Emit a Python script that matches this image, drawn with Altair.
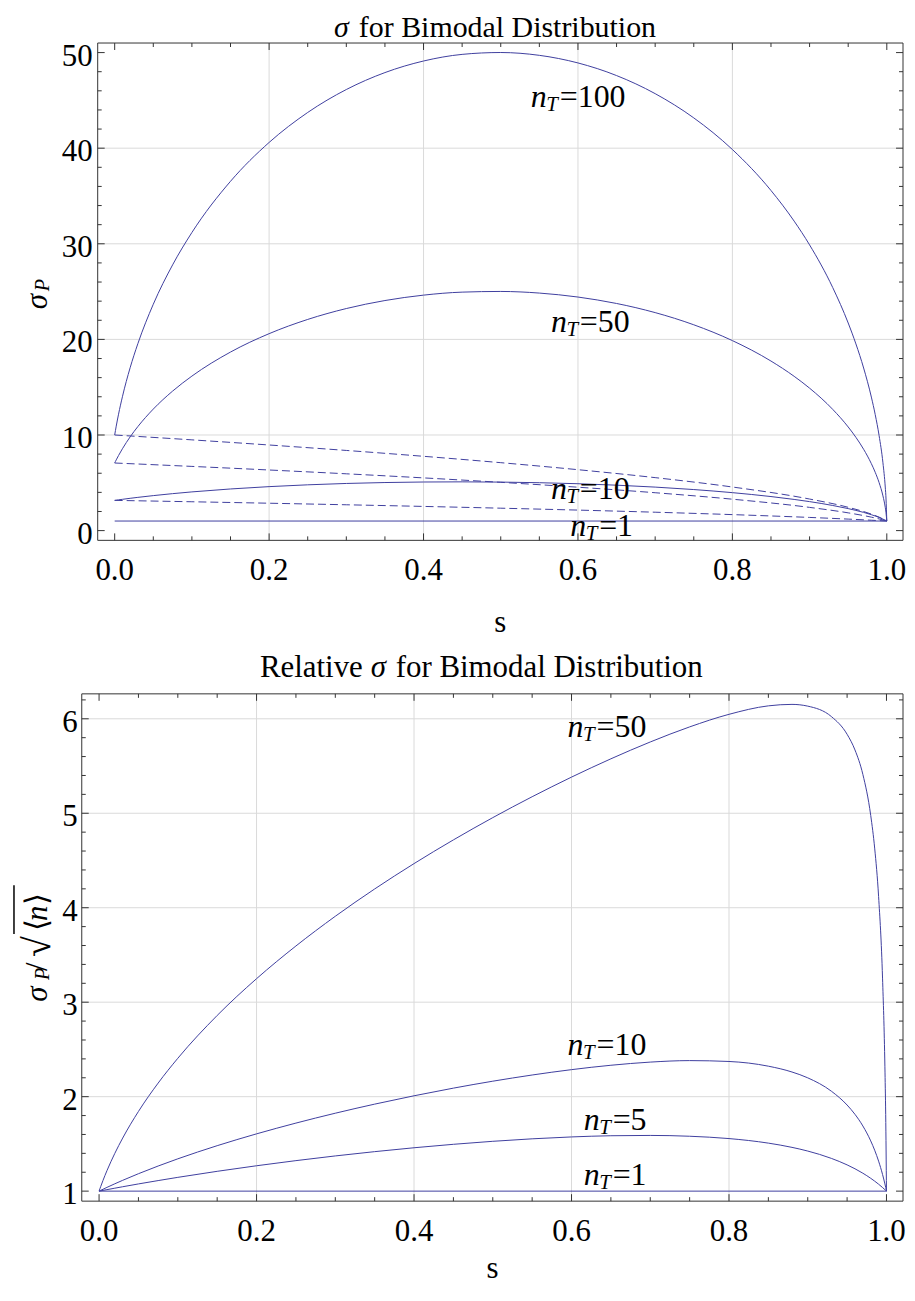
import altair as alt
import pandas as pd

# ------------------------------------------------------------------ data
S_SOLID = [0.0, 0.001, 0.002, 0.005, 0.01, 0.02, 0.03, 0.05, 0.075, 0.1, 0.15, 0.2,
           0.25, 0.3, 0.35, 0.4, 0.45, 0.5, 0.55, 0.6, 0.65, 0.7, 0.75, 0.8, 0.85,
           0.88, 0.9, 0.93, 0.95, 0.96, 0.97, 0.98, 0.985, 0.99, 0.995, 0.998, 0.999, 1.0]

SIGMA_100 = [10.0, 10.473, 10.926, 12.177, 14.001, 17.033, 19.551, 23.677, 27.794, 31.180,
             36.535, 40.600, 43.737, 46.136, 47.907, 49.119, 49.812, 50.007, 49.712, 48.917,
             47.596, 45.705, 43.168, 39.862, 35.574, 32.371, 29.883, 25.416, 21.714, 19.528,
             17.005, 13.967, 12.136, 9.951, 7.089, 4.556, 3.300, 1.0]
SIGMA_50 = [7.071, 7.235, 7.396, 7.855, 8.560, 9.802, 10.881, 12.712, 14.591, 16.161,
            18.676, 20.600, 22.089, 23.227, 24.064, 24.630, 24.944, 25.015, 24.846, 24.430,
            23.757, 22.802, 21.528, 19.874, 17.734, 16.138, 14.899, 12.678, 10.840, 9.755,
            8.505, 7.003, 6.100, 5.026, 3.632, 2.427, 1.857, 1.0]
SIGMA_10 = [3.162, 3.174, 3.185, 3.218, 3.273, 3.378, 3.477, 3.660, 3.866, 4.048,
            4.356, 4.600, 4.789, 4.931, 5.028, 5.083, 5.099, 5.074, 5.010, 4.903,
            4.752, 4.551, 4.294, 3.970, 3.561, 3.261, 3.032, 2.627, 2.302, 2.114,
            1.904, 1.664, 1.527, 1.375, 1.203, 1.086, 1.044, 1.0]

S_FLAT = [0.0, 1.0]
FLAT_1 = [1.0, 1.0]

S_POISSON = [0.0, 0.1, 0.2, 0.3, 0.4, 0.5, 0.6, 0.7, 0.8, 0.9, 0.95, 0.98, 0.99, 1.0]
POISSON_100 = [10.0, 9.492, 8.955, 8.385, 7.772, 7.106, 6.372, 5.541, 4.561, 3.302, 2.439, 1.726, 1.411, 1.0]
POISSON_50 = [7.071, 6.716, 6.340, 5.941, 5.514, 5.050, 4.539, 3.962, 3.286, 2.429, 1.857, 1.407, 1.221, 1.0]
POISSON_10 = [3.162, 3.017, 2.864, 2.702, 2.530, 2.345, 2.145, 1.924, 1.673, 1.378, 1.204, 1.086, 1.044, 1.0]

REL_50 = [1.0, 1.0237, 1.0469, 1.1136, 1.2166, 1.4000, 1.5620, 1.8435, 2.1437, 2.4065,
          2.8597, 3.2490, 3.5952, 3.9095, 4.1986, 4.4671, 4.7182, 4.9537, 5.1750, 5.3827,
          5.5763, 5.7546, 5.9141, 6.0473, 6.1370, 6.1525, 6.1339, 6.0236, 5.8360, 5.6700,
          5.4118, 4.9767, 4.6310, 4.1174, 3.2549, 2.3161, 1.8130, 1.0]
REL_10 = [1.0, 1.0041, 1.0081, 1.0200, 1.0397, 1.0778, 1.1146, 1.1845, 1.2659, 1.3421,
          1.4812, 1.6064, 1.7204, 1.8249, 1.9210, 2.0094, 2.0903, 2.1638, 2.2293, 2.2861,
          2.3325, 2.3659, 2.3818, 2.3725, 2.3227, 2.2611, 2.1993, 2.0579, 1.9115, 1.8130,
          1.6900, 1.5316, 1.4334, 1.3175, 1.1771, 1.0765, 1.0393, 1.0]
REL_5 = [1.0, 1.0016, 1.0032, 1.0080, 1.0158, 1.0314, 1.0466, 1.0763, 1.1118, 1.1459,
         1.2098, 1.2687, 1.3229, 1.3727, 1.4181, 1.4593, 1.4958, 1.5275, 1.5538, 1.5738,
         1.5864, 1.5897, 1.5811, 1.5564, 1.5083, 1.4634, 1.4243, 1.3468, 1.2780, 1.2368,
         1.1898, 1.1359, 1.1059, 1.0735, 1.0383, 1.0157, 1.0079, 1.0]

X_TICKS_MAJOR = [0.0, 0.2, 0.4, 0.6, 0.8, 1.0]
X_TICKS_MINOR = [0.05, 0.1, 0.15, 0.25, 0.3, 0.35, 0.45, 0.5, 0.55, 0.65, 0.7, 0.75, 0.85, 0.9, 0.95]
X_GRID = [0.2, 0.4, 0.6, 0.8]

TOP_Y_MAJOR = [0, 10, 20, 30, 40, 50]
TOP_Y_MINOR = [2, 4, 6, 8, 12, 14, 16, 18, 22, 24, 26, 28, 32, 34, 36, 38, 42, 44, 46, 48]
TOP_Y_GRID = [10, 20, 30, 40]

BOT_Y_MAJOR = [1, 2, 3, 4, 5, 6]
BOT_Y_MINOR = [1.2, 1.4, 1.6, 1.8, 2.2, 2.4, 2.6, 2.8, 3.2, 3.4, 3.6, 3.8,
               4.2, 4.4, 4.6, 4.8, 5.2, 5.4, 5.6, 5.8, 6.2]
BOT_Y_GRID = [2, 3, 4, 5, 6]

TOP_LABELS = ["=100", "=50", "=10", "=1"]
BOT_LABELS = ["=50", "=10", "=5", "=1"]

# label anchors (data coordinates of the left end of each "nT=" label)
TOP_LABEL_S = [0.539, 0.565, 0.565, 0.590]
TOP_LABEL_V = [44.3, 20.8, 3.3, -0.6]
BOT_LABEL_S = [0.595, 0.595, 0.6155, 0.6155]
BOT_LABEL_V = [5.806, 2.438, 1.650, 1.063]

# ------------------------------------------------------------------ style / layout
FONT = "Liberation Serif, Times New Roman, serif"
FS = 31
FS_LAB = 32
LINE = "#3f3f9f"
FRAME = "#333333"
GRID = "#dadada"
ONE = pd.DataFrame({"k": [0]})
VIEW_W, VIEW_H = 899, 1280


def series_frame(items):
    rows = []
    for name, ss, vv, dashed in items:
        for s, v in zip(ss, vv):
            rows.append({"s": s, "v": v, "series": name, "dashed": dashed})
    return pd.DataFrame(rows)


def txt(text, x, y, size=FS, italic=False, angle=0, align="left"):
    return alt.Chart(ONE).mark_text(
        text=text, font=FONT, fontSize=size,
        fontStyle="italic" if italic else "normal",
        angle=angle, align=align, baseline="alphabetic", color="black"
    ).encode(x=alt.value(x), y=alt.value(y))


def rule(x, y, x2=None, y2=None, color=FRAME, width=1):
    enc = {"x": alt.value(x), "y": alt.value(y)}
    if x2 is not None:
        enc["x2"] = alt.value(x2)
    if y2 is not None:
        enc["y2"] = alt.value(y2)
    return alt.Chart(ONE).mark_rule(color=color, strokeWidth=width).encode(**enc)


def panel(df, lab, box, xdom, ydom, ymajor, yminor, ygrid, xlab_y, ylab_x):
    X0, X1, Y0, Y1 = box
    xs = alt.Scale(domain=xdom, range=[X0, X1], nice=False, zero=False)
    ys = alt.Scale(domain=ydom, range=[Y1, Y0], nice=False, zero=False)

    def X(f):
        return alt.X(f, scale=xs, axis=None)

    def Y(f):
        return alt.Y(f, scale=ys, axis=None)

    L = []
    # grid
    L.append(alt.Chart(pd.DataFrame({"g": X_GRID})).mark_rule(color=GRID, strokeWidth=1)
             .encode(x=X("g:Q"), y=alt.value(Y0), y2=alt.value(Y1)))
    L.append(alt.Chart(pd.DataFrame({"g": ygrid})).mark_rule(color=GRID, strokeWidth=1)
             .encode(y=Y("g:Q"), x=alt.value(X0), x2=alt.value(X1)))
    # curves
    solid = df[~df["dashed"]]
    dashed = df[df["dashed"]]
    L.append(alt.Chart(solid).mark_line(color=LINE, strokeWidth=1, interpolate="monotone")
             .encode(x=X("s:Q"), y=Y("v:Q"), detail="series:N"))
    if len(dashed):
        L.append(alt.Chart(dashed).mark_line(color=LINE, strokeWidth=1, strokeDash=[8, 4],
                                             interpolate="monotone")
                 .encode(x=X("s:Q"), y=Y("v:Q"), detail="series:N"))
    # frame
    L += [rule(X0, Y0, y2=Y1), rule(X1, Y0, y2=Y1),
          rule(X0, Y0, x2=X1), rule(X0, Y1, x2=X1)]
    # ticks (inside, on all four sides)
    for vals, n in ((X_TICKS_MAJOR, 7), (X_TICKS_MINOR, 4)):
        d = pd.DataFrame({"t": vals})
        L.append(alt.Chart(d).mark_rule(color=FRAME)
                 .encode(x=X("t:Q"), y=alt.value(Y1), y2=alt.value(Y1 - n)))
        L.append(alt.Chart(d).mark_rule(color=FRAME)
                 .encode(x=X("t:Q"), y=alt.value(Y0), y2=alt.value(Y0 + n)))
    for vals, n in ((ymajor, 7), (yminor, 4)):
        d = pd.DataFrame({"t": vals})
        L.append(alt.Chart(d).mark_rule(color=FRAME)
                 .encode(y=Y("t:Q"), x=alt.value(X0), x2=alt.value(X0 + n)))
        L.append(alt.Chart(d).mark_rule(color=FRAME)
                 .encode(y=Y("t:Q"), x=alt.value(X1), x2=alt.value(X1 - n)))
    # tick labels
    L.append(alt.Chart(pd.DataFrame({"t": X_TICKS_MAJOR}))
             .mark_text(font=FONT, fontSize=FS, align="center", baseline="alphabetic", color="black")
             .encode(x=X("t:Q"), y=alt.value(xlab_y), text=alt.Text("t:Q", format=".1f")))
    L.append(alt.Chart(pd.DataFrame({"t": ymajor}))
             .mark_text(font=FONT, fontSize=FS, align="right", baseline="alphabetic",
                        color="black", dy=13)
             .encode(y=Y("t:Q"), x=alt.value(ylab_x), text=alt.Text("t:Q", format="d")))
    # curve labels  n_T = ...
    base = alt.Chart(lab)
    L.append(base.mark_text(text="n", font=FONT, fontSize=FS_LAB, fontStyle="italic",
                            align="left", baseline="alphabetic", color="black")
             .encode(x=X("s:Q"), y=Y("v:Q")))
    L.append(base.mark_text(text="T", font=FONT, fontSize=21, fontStyle="italic",
                            align="left", baseline="alphabetic", color="black", dx=15.5, dy=4)
             .encode(x=X("s:Q"), y=Y("v:Q")))
    L.append(base.mark_text(font=FONT, fontSize=FS_LAB, align="left", baseline="alphabetic",
                            color="black", dx=29)
             .encode(x=X("s:Q"), y=Y("v:Q"), text="eq:N"))
    return L


# ------------------------------------------------------------------ top panel
top_df = series_frame([
    ("b100", S_SOLID, SIGMA_100, False),
    ("b50", S_SOLID, SIGMA_50, False),
    ("b10", S_SOLID, SIGMA_10, False),
    ("b1", S_FLAT, FLAT_1, False),
    ("p100", S_POISSON, POISSON_100, True),
    ("p50", S_POISSON, POISSON_50, True),
    ("p10", S_POISSON, POISSON_10, True),
])
top_lab = pd.DataFrame({"s": TOP_LABEL_S, "v": TOP_LABEL_V, "eq": TOP_LABELS})
TOP_BOX = (90, 898, 33, 532)
top_layers = panel(top_df, top_lab, TOP_BOX, [-0.022, 1.021], [-1.02, 51.0],
                   TOP_Y_MAJOR, TOP_Y_MINOR, TOP_Y_GRID, xlab_y=572, ylab_x=85)
top_layers += [
    txt("σ", 342, 27, size=30, italic=True, align="right"),
    txt("for Bimodal Distribution", 352, 27, size=30),
    txt("σ", 39, 300, italic=True, angle=270),
    txt("P", 41, 282, size=20, italic=True, angle=270),
    txt("s", 494, 624, align="center"),
]

# ------------------------------------------------------------------ bottom panel
bot_df = series_frame([
    ("r50", S_SOLID, REL_50, False),
    ("r10", S_SOLID, REL_10, False),
    ("r5", S_SOLID, REL_5, False),
    ("r1", S_FLAT, FLAT_1, False),
])
bot_lab = pd.DataFrame({"s": BOT_LABEL_S, "v": BOT_LABEL_V, "eq": BOT_LABELS})
BOT_BOX = (74, 898, 686, 1195)
bot_layers = panel(bot_df, bot_lab, BOT_BOX, [-0.022, 1.021], [0.894, 6.264],
                   BOT_Y_MAJOR, BOT_Y_MINOR, BOT_Y_GRID, xlab_y=1235, ylab_x=70)
bot_layers += [
    txt("Relative", 356, 669, align="right"),
    txt("σ", 364, 669, italic=True),
    txt("for Bimodal Distribution", 389, 669),
    txt("σ", 39, 995, italic=True, angle=270),
    txt("P", 41, 973, size=20, italic=True, angle=270),
    txt("/", 39, 964, angle=270),
    txt("√", 42, 950, size=38, angle=270),
    txt("⟨", 39, 924, angle=270),
    txt("n", 39, 914, italic=True, angle=270),
    txt("⟩", 39, 898, angle=270),
    rule(6, 878, y2=927, color="black", width=1.5),
    txt("s", 486, 1272, align="center"),
]

chart = alt.layer(*(top_layers + bot_layers)).resolve_scale(
    x="independent", y="independent"
).properties(
    width=VIEW_W, height=VIEW_H, padding=0
).configure_view(stroke="transparent")

chart.save("out.html", embed_options={"renderer": "svg", "actions": False})
